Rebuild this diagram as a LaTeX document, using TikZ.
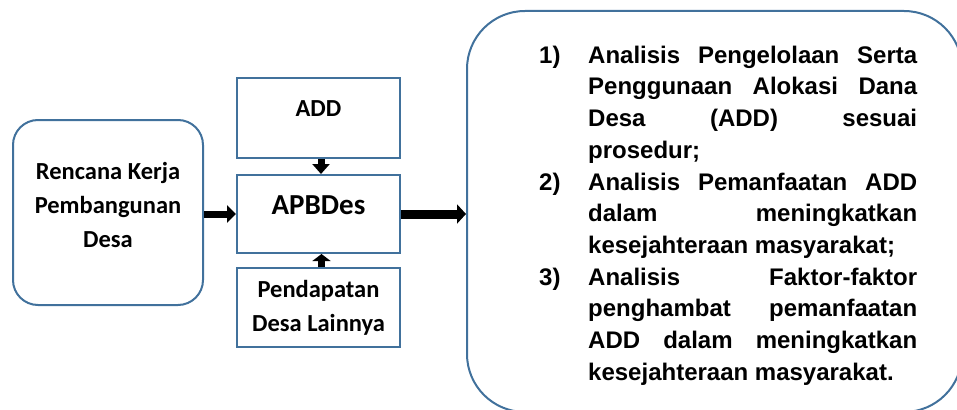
\documentclass[tikz,border=0pt]{standalone}
\usepackage{fontspec}
\setmainfont{Liberation Sans}
\newfontfamily\calibri{Carlito}
\usetikzlibrary{arrows.meta}
\definecolor{boxblue}{RGB}{65,113,156}
\begin{document}
\begin{tikzpicture}[x=1pt,y=-1pt,
  boxsq/.style={draw=boxblue, line width=2pt, minimum width=163pt, inner sep=0pt},
  boxrd/.style={draw=boxblue, line width=2pt, inner sep=0pt},
  cal/.style={font=\calibri\bfseries\fontsize{24.5}{34}\selectfont, inner sep=0pt},
  bigarrow/.style={line width=7pt, -{Triangle[length=9pt,width=17pt]}},
]
\clip (0,0) rectangle (957,409);
% boxes
\node[boxrd, rounded corners=25pt, minimum width=190pt, minimum height=185pt] (plan) at (108,212.5) {};
\node[boxsq, minimum height=80pt] (add) at (318.5,118) {};
\node[boxsq, minimum height=78pt] (apb) at (318.5,214) {};
\node[boxsq, minimum height=79pt] (pdl) at (318.5,307.5) {};
\node[boxrd, rounded corners=58pt, minimum width=495pt, minimum height=401pt] (res) at (714.5,211.5) {};
% texts
\node[cal, anchor=base] (plantxt) at (108,179) {\begin{tabular}[t]{@{}c@{}}Rencana Kerja\\Pembangunan\\Desa\end{tabular}};
\node[cal, anchor=base] (addtxt) at (318.5,117) {ADD};
\node[font=\calibri\bfseries\fontsize{29}{34}\selectfont, inner sep=0pt, anchor=base] (apbtxt) at (318.5,214) {APBDes};
\node[cal, anchor=base] (pdltxt) at (318.5,297) {\begin{tabular}[t]{@{}c@{}}Pendapatan\\Desa Lainnya\end{tabular}};
\node[anchor=base west, inner sep=0pt, font=\bfseries] (list) at (539,63.3) {\parbox[t]{378pt}{\fontsize{24}{31.7}\selectfont\bfseries
\makebox[49pt][l]{1)}\makebox[329pt][s]{Analisis Pengelolaan Serta}\\
\hspace*{49pt}\makebox[329pt][s]{Penggunaan Alokasi Dana}\\
\hspace*{49pt}\makebox[329pt][s]{Desa (ADD) sesuai}\\
\hspace*{49pt}prosedur;\\
\makebox[49pt][l]{2)}\makebox[329pt][s]{Analisis Pemanfaatan ADD}\\
\hspace*{49pt}\makebox[329pt][s]{dalam meningkatkan}\\
\hspace*{49pt}kesejahteraan masyarakat;\\
\makebox[49pt][l]{3)}\makebox[329pt][s]{Analisis Faktor-faktor}\\
\hspace*{49pt}\makebox[329pt][s]{penghambat pemanfaatan}\\
\hspace*{49pt}\makebox[329pt][s]{ADD dalam meningkatkan}\\
\hspace*{49pt}kesejahteraan masyarakat.}};
% arrows
\draw[bigarrow] (apb.west -| plan.east) -- (apb.west);
\draw[line width=7pt, -{Triangle[length=10pt,width=17pt]}] ([xshift=2.5pt]add.south) -- ([xshift=2.5pt]apb.north);
\draw[line width=7pt, -{Triangle[length=7pt,width=18pt]}] ([xshift=3pt]pdl.north) -- ([xshift=3pt]apb.south);
\draw[line width=9pt, -{Triangle[length=9pt,width=19pt]}] (apb.east) -- (apb.east -| res.west);
\end{tikzpicture}
\end{document}
